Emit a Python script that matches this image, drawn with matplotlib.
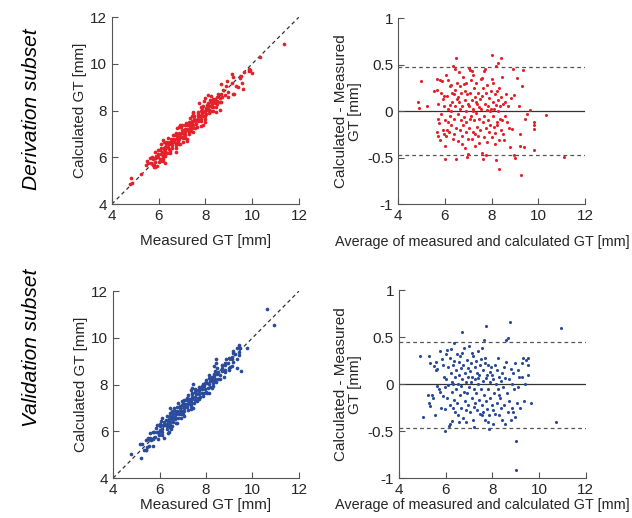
import numpy as np
import matplotlib.pyplot as plt

# Bland-Altman readings: average of measured and calculated GT, and calc - measured
der_avg = [4.83, 4.88, 4.97, 5.25,
           5.55, 5.65, 5.66, 5.72, 5.70, 5.68, 5.72, 5.75, 5.78, 5.80, 5.83, 5.85, 5.87, 5.90, 5.92, 5.95, 5.97, 5.98, 5.99,
           6.00, 6.02, 6.03, 6.05, 6.07, 6.10, 6.12, 6.15, 6.17, 6.20, 6.22, 6.25, 6.27, 6.30, 6.32, 6.33, 6.35, 6.37, 6.40,
           6.42, 6.44, 6.45, 6.47, 6.47, 6.48, 6.50, 6.38, 6.28, 6.13, 6.20,
           6.52, 6.55, 6.57, 6.60, 6.62, 6.63, 6.65, 6.68, 6.70, 6.72, 6.75, 6.77, 6.79, 6.80, 6.82, 6.84, 6.86, 6.88, 6.90,
           6.92, 6.94, 6.96, 6.97, 6.98, 6.58, 6.66, 6.74, 6.85, 6.92,
           7.00, 7.01, 7.03, 7.05, 7.07, 7.08, 7.10, 7.12, 7.14, 7.15, 7.17, 7.19, 7.21, 7.22, 7.24, 7.26, 7.28, 7.30, 7.32,
           7.34, 7.36, 7.38, 7.40, 7.42, 7.44, 7.46, 7.47, 7.49, 7.06, 7.18, 7.27, 7.35,
           7.51, 7.53, 7.55, 7.57, 7.58, 7.59, 7.61, 7.63, 7.64, 7.66, 7.67, 7.69, 7.71, 7.72, 7.74, 7.75, 7.76, 7.78, 7.80,
           7.82, 7.84, 7.86, 7.88, 7.90, 7.92, 7.94, 7.96, 7.98,
           8.00, 8.01, 8.03, 8.04, 8.05, 8.07, 8.09, 8.11, 8.12, 8.14, 8.15, 8.17, 8.18, 8.19, 8.21, 8.23, 8.24, 8.26, 8.27,
           8.29, 8.31, 8.32, 8.33, 8.35, 8.37, 8.38, 8.40, 8.41, 8.43, 8.45, 8.47, 8.49,
           8.53, 8.55, 8.58, 8.62, 8.66, 8.70, 8.75, 8.79, 8.82, 8.88, 8.90, 8.95, 8.97, 8.98,
           9.10, 9.15, 9.19, 9.20, 9.25, 9.31, 9.35, 9.39, 9.42, 9.50, 9.65, 9.79, 9.82, 9.80, 9.82, 10.33, 11.11]
der_diff = [0.10, 0.03, 0.32, 0.05,
            0.22, 0.23, 0.35, 0.08, -0.08, -0.22, -0.27, -0.13, -0.31, 0.33, -0.03, 0.20, 0.32, -0.20, 0.13, -0.25, 0.16, 0.05, -0.10,
            -0.51, -0.37, 0.39, -0.27, 0.16, -0.20, 0.02, 0.33, -0.22, 0.27, -0.05, 0.28, -0.15, 0.10, 0.20, 0.48, -0.30, 0.18, -0.08,
            0.05, 0.455, 0.23, 0.57, -0.52, -0.18, 0.13, -0.25, 0.00, -0.12, 0.07,
            0.30, -0.03, -0.32, 0.42, 0.10, -0.20, 0.27, -0.10, 0.20, -0.27, 0.05, -0.15, 0.37, 0.29, -0.06, 0.12, -0.40, 0.00, 0.30,
            -0.22, 0.18, -0.49, 0.08, -0.30, 0.15, 0.02, -0.35, 0.22, -0.12,
            -0.46, 0.46, 0.05, -0.18, 0.44, 0.20, -0.05, 0.33, -0.30, 0.43, 0.12, -0.22, 0.39, 0.00, -0.10, 0.25, -0.38, 0.15, -0.02,
            0.30, -0.17, 0.08, -0.27, 0.20, -0.08, 0.04, -0.34, 0.13, -0.08, 0.02, -0.25, 0.10,
            -0.20, 0.34, 0.02, -0.45, 0.16, 0.36, -0.12, -0.52, 0.25, -0.05, 0.43, -0.28, 0.45, 0.08, -0.18, -0.47, 0.19, 0.01, -0.33,
            0.28, -0.10, 0.05, -0.23, 0.14, 0.00, -0.15, 0.22, 0.02,
            0.34, 0.60, -0.28, 0.30, -0.05, 0.10, -0.17, 0.02, -0.24, 0.18, -0.35, 0.48, 0.07, -0.53, -0.12, 0.22, -0.15, 0.52, 0.00,
            0.12, -0.31, -0.62, 0.25, -0.08, 0.05, -0.20, 0.57, 0.15, 0.37, -0.10, 0.08, -0.25,
            -0.31, 0.10, -0.05, 0.18, -0.12, 0.05, -0.18, -0.39, 0.14, -0.19, 0.45, -0.47, 0.17, -0.50,
            0.36, 0.05, -0.25, -0.38, -0.69, 0.27, 0.44, -0.39, -0.08, -0.03, 0.01, -0.19, -0.15, -0.42, -0.12, -0.04, -0.495]

val_avg = [4.90, 5.04, 5.25, 5.29, 5.30, 5.32, 5.35, 5.40, 5.45,
           5.52, 5.55, 5.58, 5.60, 5.62, 5.65, 5.70, 5.75, 5.78, 5.80, 5.85, 5.88, 5.90, 5.92, 5.96, 5.98, 5.96,
           6.00, 6.03, 6.05, 6.08, 6.10, 6.12, 6.15, 6.17, 6.20, 6.22, 6.25, 6.27, 6.29, 6.30, 6.32, 6.34, 6.36, 6.38, 6.40,
           6.42, 6.44, 6.46, 6.48, 6.50, 6.18, 6.26, 6.33,
           6.52, 6.54, 6.56, 6.58, 6.60, 6.62, 6.64, 6.66, 6.68, 6.71, 6.72, 6.74, 6.76, 6.78, 6.80, 6.82, 6.84, 6.86, 6.88,
           6.90, 6.92, 6.94, 6.96, 6.98, 6.57, 6.69, 6.87,
           7.00, 7.02, 7.04, 7.06, 7.08, 7.10, 7.12, 7.14, 7.16, 7.18, 7.20, 7.23, 7.24, 7.26, 7.28, 7.30, 7.32, 7.34, 7.36,
           7.38, 7.40, 7.42, 7.44, 7.46, 7.48, 7.13, 7.22, 7.37,
           7.50, 7.52, 7.54, 7.56, 7.58, 7.60, 7.62, 7.64, 7.65, 7.67, 7.69, 7.71, 7.73, 7.74, 7.76, 7.78, 7.80, 7.82, 7.84,
           7.87, 7.88, 7.90, 7.92, 7.95, 7.97, 7.55, 7.68, 7.83,
           8.00, 8.03, 8.05, 8.08, 8.10, 8.12, 8.15, 8.18, 8.20, 8.23, 8.25, 8.28, 8.30, 8.33, 8.35, 8.38, 8.40, 8.43, 8.45,
           8.48, 8.05, 8.27,
           8.50, 8.53, 8.55, 8.57, 8.60, 8.62, 8.66, 8.68, 8.70, 8.72, 8.76, 8.78, 8.80, 8.82, 8.85, 8.88, 8.90, 8.93, 8.96, 8.98,
           9.03, 9.03, 9.05, 9.08, 9.10, 9.15, 9.20, 9.25, 9.28, 9.31, 9.35, 9.40, 9.45, 9.51, 9.51, 9.54, 9.67, 10.74, 10.94]
val_diff = [0.30, -0.35, -0.12, 0.30, -0.20, -0.23, 0.22, -0.12, -0.15,
            0.19, -0.33, 0.15, 0.23, -0.02, 0.16, -0.05, 0.35, -0.08, -0.25, 0.27, 0.20, -0.13, 0.08, -0.50, -0.03, -0.27,
            0.32, 0.05, -0.15, 0.36, -0.01, 0.18, -0.45, 0.28, -0.22, 0.12, 0.37, -0.08, -0.39, 0.20, 0.00, 0.44, -0.17, 0.25, -0.30,
            0.08, -0.05, 0.15, -0.20, 0.32, -0.42, 0.02, -0.25,
            0.00, -0.33, 0.23, 0.10, -0.12, 0.30, -0.02, 0.17, -0.25, 0.55, 0.05, -0.36, 0.20, -0.08, 0.38, 0.12, -0.18, -0.40, 0.02,
            0.26, -0.10, 0.08, -0.22, 0.17, -0.40, 0.33, -0.28,
            0.40, -0.03, 0.14, -0.30, 0.02, 0.22, -0.15, 0.08, -0.38, 0.30, -0.05, -0.46, 0.18, -0.20, 0.05, 0.25, -0.10, 0.12, -0.28,
            0.00, 0.35, -0.17, 0.10, -0.32, 0.20, 0.33, -0.24, 0.07,
            -0.05, 0.27, -0.22, 0.38, 0.03, -0.30, 0.15, 0.47, -0.12, 0.22, -0.38, 0.06, 0.62, -0.18, 0.10, -0.27, 0.20, -0.05, -0.33,
            -0.48, 0.13, -0.15, 0.02, 0.18, -0.22, -0.33, 0.28, -0.40,
            0.10, -0.28, 0.05, -0.10, 0.20, -0.32, 0.00, -0.20, 0.15, -0.05, 0.28, -0.33, 0.08, -0.15, 0.03, -0.25, 0.12, -0.38, -0.03,
            0.18, -0.42, -0.12,
            -0.22, 0.06, -0.42, 0.47, 0.23, -0.10, 0.49, -0.30, 0.05, -0.18, 0.66, 0.16, -0.38, 0.00, -0.25, 0.12, -0.30, -0.05, -0.35, 0.22,
            -0.61, -0.91, -0.20, 0.15, -0.03, 0.08, -0.25, 0.22, 0.08, 0.28, -0.18, 0.00, 0.26, 0.20, 0.10, 0.28, -0.20, -0.40, 0.60]

# limits of agreement
der_loa = [0.47, -0.47]
val_loa = [0.45, -0.47]

red = '#e4202a'
blue = '#2a4b9b'
axcol = '#555555'
txtcol = '#262626'

plt.rcParams['font.family'] = ['Liberation Sans', 'DejaVu Sans']
plt.rcParams['font.size'] = 10.5


def style_ax(ax):
    for s in ['top', 'right']:
        ax.spines[s].set_visible(False)
    for s in ['left', 'bottom']:
        ax.spines[s].set_color(axcol)
        ax.spines[s].set_linewidth(0.8)
    ax.tick_params(direction='in', length=4, width=0.8, color=axcol,
                   labelcolor=txtcol, labelsize=11)


def scatter_ax(ax, avg, diff, col, pad):
    avg = np.array(avg)
    diff = np.array(diff)
    meas = avg - diff / 2
    calc = avg + diff / 2
    ax.plot([4, 12], [4, 12], ls=(0, (3, 2.5)), color='#333333', lw=0.9, zorder=1)
    ax.scatter(meas, calc, s=7, color=col, linewidths=0, zorder=2)
    ax.set_xlim(4, 12)
    ax.set_ylim(4, 12)
    ax.set_xticks([4, 6, 8, 10, 12])
    ax.set_yticks([4, 6, 8, 10, 12])
    ax.set_xlabel('Measured GT [mm]', fontsize=11, color=txtcol, labelpad=pad)
    ax.set_ylabel('Calculated GT [mm]', fontsize=11, color=txtcol, labelpad=2)
    style_ax(ax)


def ba_ax(ax, avg, diff, loa, col, pad, lx):
    ax.axhline(0, color='#333333', lw=0.9, zorder=1)
    for v in loa:
        ax.axhline(v, color='#555555', lw=0.9, ls=(0, (3, 2.5)), zorder=1)
    ax.scatter(avg, diff, s=5, color=col, linewidths=0, zorder=2)
    ax.set_xlim(4, 12)
    ax.set_ylim(-1, 1)
    ax.set_xticks([4, 6, 8, 10, 12])
    ax.set_yticks([-1, -0.5, 0, 0.5, 1])
    ax.set_yticklabels(['-1', '-0.5', '0', '0.5', '1'])
    ax.set_xlabel('Average of measured and calculated GT [mm]', fontsize=10.4,
                  color=txtcol, labelpad=pad)
    ax.xaxis.label.set_x(lx)
    ax.set_ylabel('Calculated - Measured\nGT [mm]', fontsize=11, color=txtcol,
                  labelpad=4, linespacing=1.0)
    style_ax(ax)


fig = plt.figure(figsize=(6.32, 5.18), dpi=100)

ax1 = fig.add_axes([0.177, 0.606, 0.296, 0.361])
scatter_ax(ax1, der_avg, der_diff, red, 8)
ax2 = fig.add_axes([0.630, 0.606, 0.296, 0.359])
ba_ax(ax2, der_avg, der_diff, der_loa, red, 9, 0.45)
ax3 = fig.add_axes([0.179, 0.077, 0.294, 0.361])
scatter_ax(ax3, val_avg, val_diff, blue, 1)
ax4 = fig.add_axes([0.631, 0.077, 0.296, 0.363])
ba_ax(ax4, val_avg, val_diff, val_loa, blue, 1, 0.444)

fig.text(0.05, 0.79, 'Derivation subset', rotation=90, style='italic',
         fontsize=15, ha='center', va='center', color='black')
fig.text(0.05, 0.328, 'Validation subset', rotation=90, style='italic',
         fontsize=15, ha='center', va='center', color='black')

fig.savefig('out.png', dpi=100)
